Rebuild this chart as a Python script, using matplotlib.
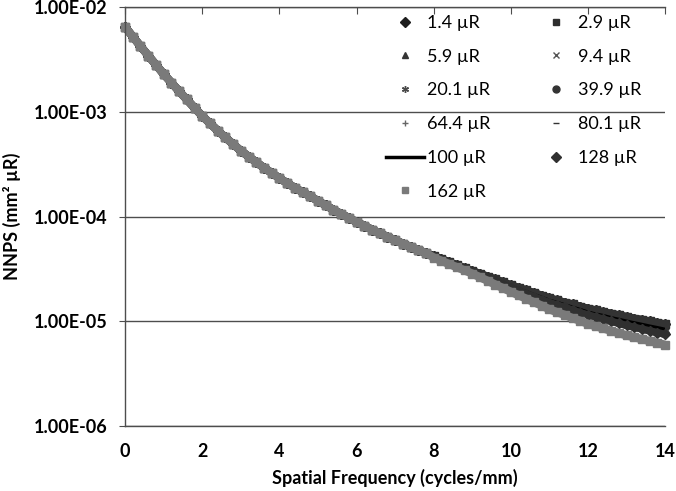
import numpy as np
import matplotlib
matplotlib.use("Agg")
from matplotlib import pyplot as plt
from matplotlib.lines import Line2D
from matplotlib.ticker import FuncFormatter, NullLocator

plt.rcParams['font.family'] = ['Lato', 'DejaVu Sans']

# spatial frequency samples (cycles/mm)
freq = np.round(np.arange(0, 14.01, 0.2), 1)

# NNPS, 0.0 - 7.8 cycles/mm (all exposures overlap here)
nnps_head = [6.46e-3, 5.22e-3, 4.23e-3, 3.44e-3, 2.81e-3, 2.29e-3, 1.90e-3, 1.57e-3,
             1.31e-3, 1.09e-3, 9.12e-4, 7.76e-4, 6.61e-4, 5.68e-4, 4.91e-4, 4.25e-4,
             3.74e-4, 3.30e-4, 2.92e-4, 2.61e-4, 2.32e-4, 2.09e-4, 1.88e-4, 1.71e-4,
             1.56e-4, 1.41e-4, 1.28e-4, 1.16e-4, 1.06e-4, 9.70e-5, 8.87e-5, 8.17e-5,
             7.50e-5, 6.92e-5, 6.41e-5, 5.93e-5, 5.52e-5, 5.14e-5, 4.79e-5, 4.48e-5]

# 8.0 - 14.0 cycles/mm, where the curves spread apart
tail_a = [4.19e-5, 3.93e-5, 3.67e-5, 3.44e-5, 3.22e-5, 3.02e-5, 2.84e-5, 2.67e-5,
          2.51e-5, 2.36e-5, 2.21e-5, 2.09e-5, 1.97e-5, 1.86e-5, 1.76e-5, 1.66e-5,
          1.58e-5, 1.51e-5, 1.45e-5, 1.38e-5, 1.32e-5, 1.27e-5, 1.22e-5, 1.18e-5,
          1.14e-5, 1.10e-5, 1.06e-5, 1.03e-5, 9.95e-6, 9.64e-6, 9.33e-6]
tail_b = [4.17e-5, 3.90e-5, 3.65e-5, 3.41e-5, 3.19e-5, 2.99e-5, 2.80e-5, 2.62e-5,
          2.45e-5, 2.30e-5, 2.15e-5, 2.02e-5, 1.91e-5, 1.79e-5, 1.69e-5, 1.58e-5,
          1.51e-5, 1.43e-5, 1.36e-5, 1.29e-5, 1.22e-5, 1.17e-5, 1.13e-5, 1.08e-5,
          1.04e-5, 1.00e-5, 9.64e-6, 9.31e-6, 8.97e-6, 8.67e-6, 8.36e-6]
tail_c = [4.12e-5, 3.85e-5, 3.61e-5, 3.37e-5, 3.16e-5, 2.95e-5, 2.75e-5, 2.57e-5,
          2.40e-5, 2.24e-5, 2.09e-5, 1.96e-5, 1.84e-5, 1.72e-5, 1.61e-5, 1.51e-5,
          1.43e-5, 1.36e-5, 1.28e-5, 1.21e-5, 1.15e-5, 1.10e-5, 1.05e-5, 1.00e-5,
          9.55e-6, 9.12e-6, 8.77e-6, 8.43e-6, 8.11e-6, 7.80e-6, 7.50e-6]
tail_162 = [4.06e-5, 3.78e-5, 3.52e-5, 3.28e-5, 3.06e-5, 2.85e-5, 2.63e-5, 2.43e-5,
            2.24e-5, 2.07e-5, 1.91e-5, 1.77e-5, 1.64e-5, 1.52e-5, 1.41e-5, 1.30e-5,
            1.22e-5, 1.15e-5, 1.07e-5, 1.01e-5, 9.44e-6, 8.97e-6, 8.53e-6, 8.11e-6,
            7.71e-6, 7.33e-6, 7.03e-6, 6.75e-6, 6.47e-6, 6.21e-6, 5.96e-6]

labels = ['1.4 µR', '2.9 µR', '5.9 µR', '9.4 µR', '20.1 µR', '39.9 µR',
          '64.4 µR', '80.1 µR', '100 µR', '128 µR', '162 µR']
tails = [tail_a, tail_a, tail_b, tail_b, tail_c, tail_a,
         tail_c, tail_b, tail_b, tail_c, tail_162]

# marker, colour, size, line width
styles = [('D', '#1e1e1e', 5, 0), ('s', '#2e2e2e', 6, 0), ('^', '#353535', 6, 0),
          ('x', '#555555', 5, 0), ((6, 2, 0), '#4a4a4a', 5.5, 0), ('o', '#333333', 6, 0),
          ('+', '#666666', 5.5, 0), ('_', '#333333', 5.5, 0), (None, '#000000', 0, 2.5),
          ('D', '#303030', 5.5, 0), ('s', '#7a7a7a', 6.3, 0)]

fig = plt.figure(figsize=(6.76, 4.91), dpi=100)
ax = fig.add_axes([0.185, 0.1324, 0.799, 0.8533])

handles = []
for lab, tail, (mk, col, ms, lw) in zip(labels, tails, styles):
    vals = nnps_head + tail
    if mk is None:
        ax.plot(freq, vals, color=col, lw=lw)
        handles.append(Line2D([], [], color=col, lw=lw))
    else:
        # dense Excel markers merge into a band, so join them with a line of the same width
        ax.plot(freq, vals, color=col, lw=ms * 0.95, marker=mk, ms=ms, mew=1.0,
                solid_capstyle='butt', clip_on=False)
        handles.append(Line2D([], [], ls='none', marker=mk, color=col,
                              ms=5, mew=1.0))

ax.set_yscale('log')
ax.set_ylim(1e-6, 1e-2)
ax.set_xlim(0, 14)
ax.set_xticks(range(0, 15, 2))
ax.set_yticks([1e-6, 1e-5, 1e-4, 1e-3, 1e-2])
ax.yaxis.set_minor_locator(NullLocator())
ax.yaxis.set_major_formatter(FuncFormatter(lambda v, p: f"{v:.2E}"))

ax.grid(axis='y', color='#4d4d4d', lw=1.0)
ax.set_axisbelow(True)
for s in ['top', 'bottom', 'left']:
    ax.spines[s].set_color('#4d4d4d')
    ax.spines[s].set_linewidth(1.0)
ax.spines['right'].set_visible(False)

ax.tick_params(axis='x', bottom=False, top=True, labelbottom=True, labeltop=False,
               direction='in', length=5, color='#4d4d4d', pad=12)
ax.tick_params(axis='y', direction='out', length=4.5, color='#4d4d4d', pad=8)
for t in ax.get_xticklabels() + ax.get_yticklabels():
    t.set_fontsize(13)
    t.set_fontweight('bold')

ax.set_xlabel('Spatial Frequency (cycles/mm)', fontsize=13, fontweight='bold', labelpad=7)
ax.set_ylabel('NNPS (mm² µR)', fontsize=13, fontweight='bold', labelpad=9)

# legend is filled row by row in the original
order = [0, 2, 4, 6, 8, 10, 1, 3, 5, 7, 9]
ax.legend([handles[i] for i in order], [labels[i] for i in order], ncol=2,
          frameon=False, fontsize=13, loc='upper left',
          bbox_to_anchor=(0.47, 0.998), handlelength=2.1, handletextpad=0.15,
          columnspacing=2.6, labelspacing=0.98, borderaxespad=0)

fig.savefig('out.png', dpi=100)
